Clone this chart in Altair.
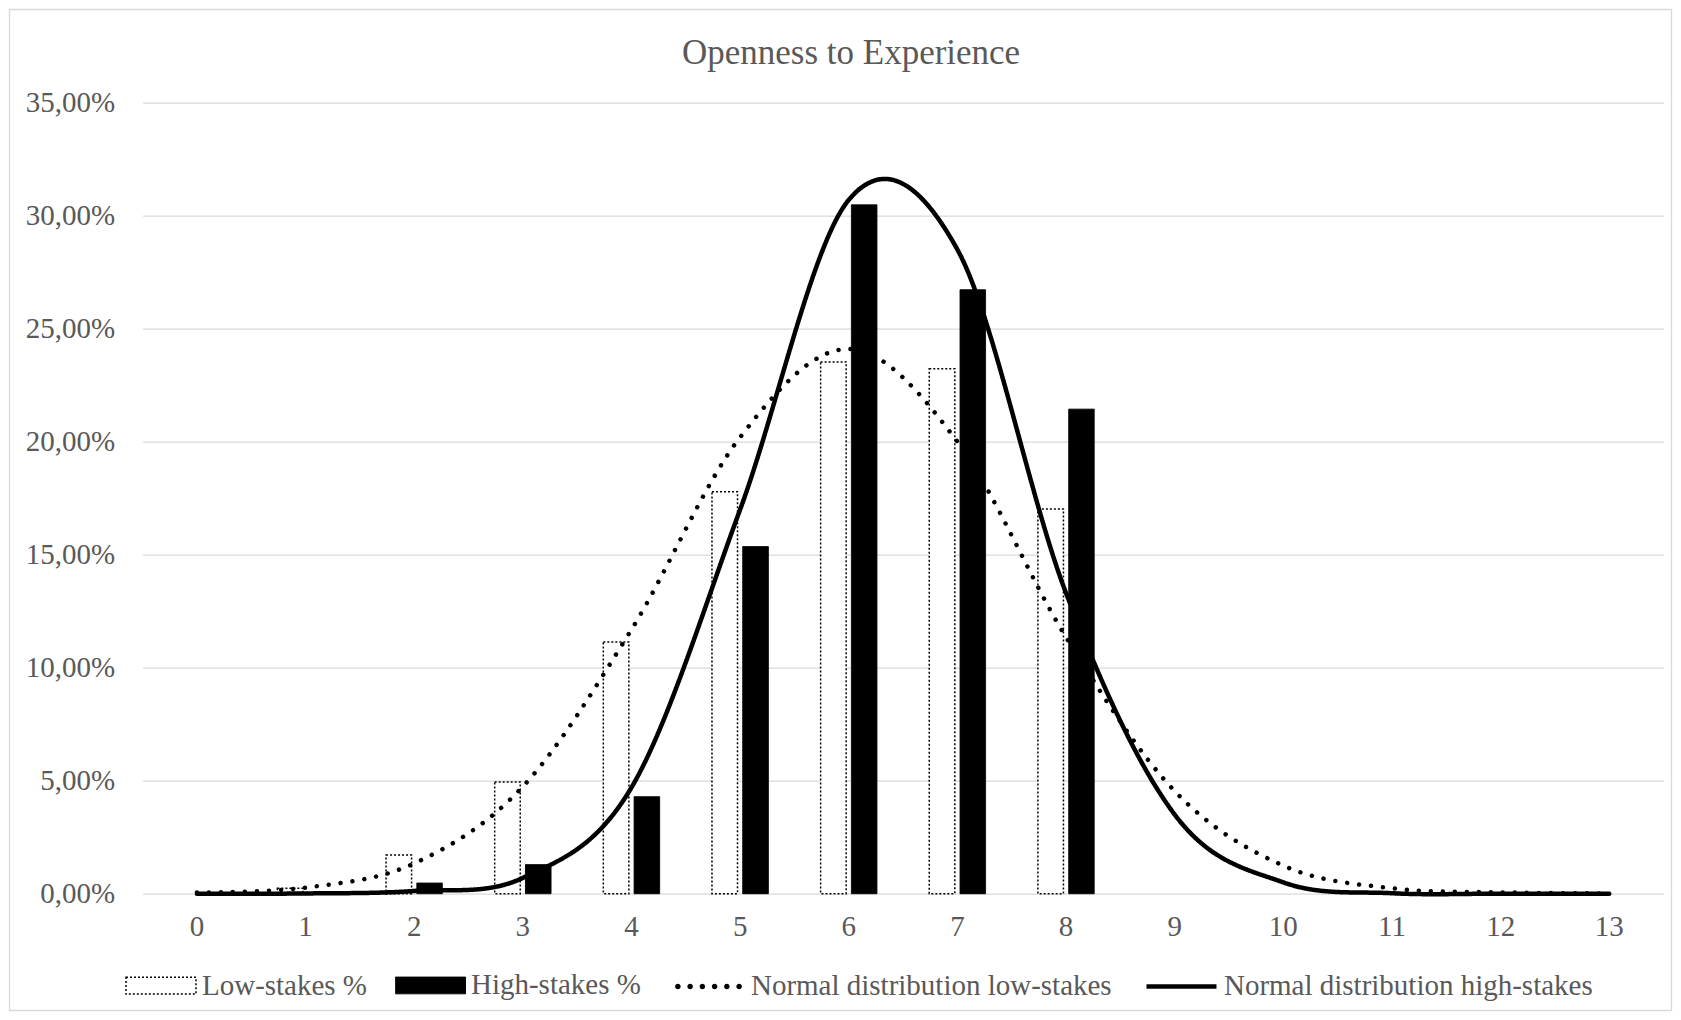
import altair as alt
import pandas as pd

# Score categories on the x axis
scores = list(range(14))

# Observed share of respondents per score (percent)
low_stakes_pct = [0.0, 0.24, 1.71, 4.94, 11.14, 17.78, 23.53, 23.23, 17.02, 0.0, 0.0, 0.0, 0.0, 0.0]
high_stakes_pct = [0.0, 0.0, 0.47, 1.29, 4.29, 15.36, 30.48, 26.72, 21.44, 0.0, 0.0, 0.0, 0.0, 0.0]

# Fitted normal curves evaluated at each score (percent)
normal_low_pct = [0.05, 0.27, 1.34, 4.74, 11.69, 20.2, 24.1, 20.0, 11.35, 4.54, 1.24, 0.24, 0.06, 0.01]
normal_high_pct = [0.0, 0.01, 0.12, 0.7, 4.7, 17.0, 30.7, 28.5, 13.3, 3.5, 0.5, 0.02, 0.0, 0.0]

y_ticks = [0, 5, 10, 15, 20, 25, 30, 35]

bar_names = ["Low-stakes %", "High-stakes %"]
line_names = ["Normal distribution low-stakes", "Normal distribution high-stakes"]
series_names = bar_names + line_names

bar_df = pd.DataFrame(
    {
        "score": scores * 2,
        "pct": low_stakes_pct + high_stakes_pct,
        "series": [bar_names[0]] * len(scores) + [bar_names[1]] * len(scores),
    }
)
line_df = pd.DataFrame(
    {
        "score": scores * 2,
        "pct": normal_low_pct + normal_high_pct,
        "series": [line_names[0]] * len(scores) + [line_names[1]] * len(scores),
    }
)

FONT = "Liberation Serif"
TEXT = "#595959"
GRID = "#d9d9d9"

# Legend symbol outlines (unit coordinates, scaled by the legend symbol size)
rect_path = "M-1,-0.24H1V0.24H-1Z"
dot_r = 0.08
dot_path = "".join(
    f"M{cx - dot_r:.3f},0a{dot_r},{dot_r} 0 1,0 {2 * dot_r},0a{dot_r},{dot_r} 0 1,0 {-2 * dot_r},0Z"
    for cx in [-0.875, -0.525, -0.175, 0.175, 0.525, 0.875]
)
line_path = "M-1,0H1"

fill_scale = alt.Scale(domain=series_names, range=["white", "black", "black", "transparent"])
stroke_scale = alt.Scale(domain=series_names, range=["black", "black", "black", "black"])
dash_scale = alt.Scale(domain=series_names, range=[[2, 2], [1, 0], [0.01, 12], [1, 0]])
width_scale = alt.Scale(type="ordinal", domain=series_names, range=[1.5, 1, 4.5, 4.5])
shape_scale = alt.Scale(domain=series_names, range=[rect_path, rect_path, dot_path, line_path])

x_scale = alt.Scale(paddingInner=0, paddingOuter=0)
y_scale = alt.Scale(domain=[0, 35], nice=False, zero=True)

x_axis = alt.Axis(
    labelAngle=0,
    labelPadding=19,
    labelFont=FONT,
    labelFontSize=29,
    labelColor=TEXT,
    ticks=False,
    domain=False,
    grid=False,
    title=None,
)
y_axis = alt.Axis(
    values=y_ticks,
    labelExpr="replace(format(datum.value, '.2f'), '.', ',') + '%'",
    labelPadding=28,
    labelFont=FONT,
    labelFontSize=29,
    labelColor=TEXT,
    ticks=False,
    tickSize=0,
    domain=False,
    grid=True,
    gridColor=GRID,
    gridWidth=1.3,
    title=None,
)

legend = alt.Legend(
    title=None,
    orient="none",
    direction="horizontal",
    legendX=-17.6,
    legendY=846,
    symbolSize=4900,
    labelFont=FONT,
    labelFontSize=29,
    labelColor=TEXT,
    labelOffset=5,
    labelLimit=0,
    columnPadding=25,
    padding=0,
)

x_enc = alt.X("score:O", scale=x_scale, axis=x_axis)
y_enc = alt.Y("pct:Q", scale=y_scale, axis=y_axis)

bars = (
    alt.Chart(bar_df)
    .mark_bar()
    .transform_filter("datum.pct > 0")
    .encode(
        x=x_enc,
        xOffset=alt.XOffset(
            "series:N",
            scale=alt.Scale(domain=bar_names, paddingInner=0.17, paddingOuter=0.85),
        ),
        y=y_enc,
        fill=alt.Fill("series:N", scale=fill_scale),
        stroke=alt.Stroke("series:N", scale=stroke_scale),
        strokeDash=alt.StrokeDash("series:N", scale=dash_scale),
        strokeWidth=alt.StrokeWidth("series:N", scale=width_scale),
    )
)

lines = alt.Chart(line_df).mark_line(
    interpolate="cardinal", tension=0, strokeCap="round", strokeJoin="round"
).encode(
    x=x_enc,
    y=y_enc,
    stroke=alt.Stroke("series:N", scale=stroke_scale),
    strokeDash=alt.StrokeDash("series:N", scale=dash_scale),
    strokeWidth=alt.StrokeWidth("series:N", scale=width_scale),
)

# Carries the symbol shapes for the shared legend; draws nothing itself
legend_keys = (
    alt.Chart(alt.Data(values=[{"series": s} for s in series_names]))
    .mark_point(filled=True, opacity=1)
    .transform_filter("false")
    .encode(
        fill=alt.Fill("series:N", scale=fill_scale, legend=legend),
        stroke=alt.Stroke("series:N", scale=stroke_scale),
        strokeDash=alt.StrokeDash("series:N", scale=dash_scale),
        strokeWidth=alt.StrokeWidth("series:N", scale=width_scale),
        shape=alt.Shape("series:N", scale=shape_scale),
    )
)

# Light outer frame around the whole figure
frame = alt.Chart(alt.Data(values=[{"frame": 1}])).mark_rect(
    fill=None, stroke=GRID, strokeWidth=1.3
).encode(
    x=alt.value(-133.1),
    x2=alt.value(1528.9),
    y=alt.value(-93.2),
    y2=alt.value(907.8),
)

chart = (
    alt.layer(frame, bars, lines, legend_keys)
    .properties(
        width=1521,
        height=791,
        autosize=alt.AutoSizeParams(type="none"),
        padding={"left": 142.6, "top": 102.7, "right": 17, "bottom": 126},
        title=alt.Title(
            "Openness to Experience",
            font=FONT,
            fontSize=35,
            fontWeight="normal",
            color=TEXT,
            anchor="middle",
            frame="group",
            dx=-52,
            baseline="alphabetic",
            offset=0,
            dy=90,
        ),
    )
    .configure_view(stroke=None)
)

chart.save("out.html", embed_options={"renderer": "svg", "actions": False})
